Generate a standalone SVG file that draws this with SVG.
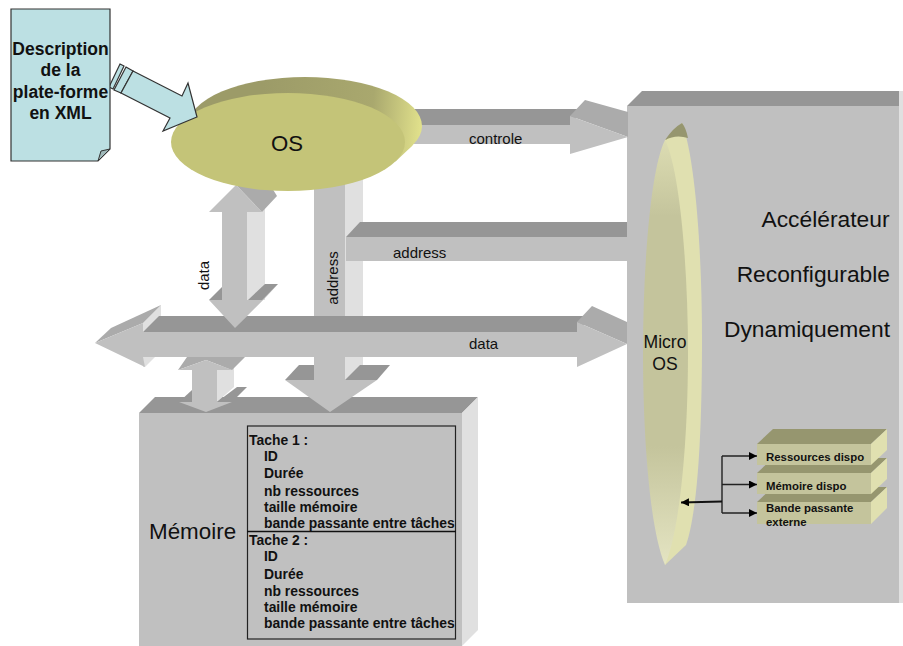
<svg xmlns="http://www.w3.org/2000/svg" width="903" height="646" viewBox="0 0 903 646">
<style>
text{font-family:"Liberation Sans",Arial,sans-serif;fill:#111}
.b{font-weight:bold}
.f{fill:#c0c0c0}.t{fill:#969696}.s{fill:#e0e0e0}.h{fill:#ababab}
.doc{fill:#bce0e3;stroke:#333;stroke-width:1.2}
.bf{fill:#c4c49c}.bt{fill:#96966f}.bs{fill:#e0e0b0}
.l15{font-size:15px}.l23{font-size:22.8px}
.tb{font-size:13.9px;font-weight:bold}
.sm{font-size:11.4px;font-weight:bold}
.cn{fill:none;stroke:#222;stroke-width:1.4}
</style>
<defs>
<linearGradient id="osg" gradientUnits="userSpaceOnUse" x1="190" y1="110" x2="422" y2="130"><stop offset="0.3" stop-color="#9c9b68"/><stop offset="0.78" stop-color="#a9a86e"/><stop offset="1" stop-color="#e2e28c"/></linearGradient>
<linearGradient id="mg" x1="0" x2="0" y1="0" y2="1"><stop offset="0" stop-color="#dcdcb2"/><stop offset="0.18" stop-color="#c4c49c"/><stop offset="0.72" stop-color="#c4c49c"/><stop offset="1" stop-color="#e4e4c2"/></linearGradient>
<marker id="ah" markerUnits="userSpaceOnUse" markerWidth="9" markerHeight="8" refX="8" refY="4" orient="auto"><path d="M0 0L8 4L0 8Z" fill="#000"/></marker>
</defs>
<rect width="903" height="646" fill="#fff"/>

<g id="accelerateur">
<polygon class="t" points="627,106 642,91 903,91 899,106"/>
<rect class="s" x="899" y="91" width="4" height="512"/>
<rect class="f" x="627" y="106" width="272" height="497"/>
<text class="l23" x="889.500" y="227" text-anchor="end">Accélérateur</text>
<text class="l23" x="890" y="282" text-anchor="end">Reconfigurable</text>
<text class="l23" x="890" y="337" text-anchor="end">Dynamiquement</text>
</g>

<g id="memoire">
<polygon class="t" points="139,413 155,397 478,397 462,413"/>
<polygon class="s" points="462,413 478,397 478,630 462,646"/>
<rect class="f" x="139" y="413" width="323" height="233"/>
<text x="149" y="539" font-size="22.4">Mémoire</text>
<rect x="247.500" y="426" width="208" height="213" fill="none" stroke="#222" stroke-width="1.2"/>
<line x1="247" y1="531.500" x2="456" y2="531.500" stroke="#111" stroke-width="1.4"/>
<text class="tb" x="249" y="445">Tache 1 :</text>
<text class="tb" x="264" y="461">ID</text>
<text class="tb" x="264" y="478">Durée</text>
<text class="tb" x="264" y="496">nb ressources</text>
<text class="tb" x="264" y="512">taille mémoire</text>
<text class="tb" x="264" y="528">bande passante entre tâches</text>
<text class="tb" x="249" y="545">Tache 2 :</text>
<text class="tb" x="264" y="561">ID</text>
<text class="tb" x="264" y="579">Durée</text>
<text class="tb" x="264" y="596">nb ressources</text>
<text class="tb" x="264" y="612">taille mémoire</text>
<text class="tb" x="264" y="628">bande passante entre tâches</text>
</g>

<g id="connectors">
<g id="arrow-data-memoire">
<polygon class="s" points="217,370 234,357 234,387 217,402"/>
<polygon class="h" points="178,370 187,357 245,357 232,370 206,360"/>
<polygon class="t" points="179,402 192,390 192,402"/>
<polygon class="t" points="217,402 237,387 247,387 232,402"/>
<polygon class="f" points="206,360 232,370 217,370 217,402 232,402 206,412 179,402 192,402 192,370 178,370"/>
</g>
<g id="arrow-address-v">
<rect class="s" x="345" y="170" width="18" height="212"/>
<polygon class="t" points="285,380 299,365 314,365 314,380"/>
<polygon class="t" points="345,380 360,365 390,365 377,380"/>
<polygon class="f" points="314,170 345,170 345,380 377,380 330,412 285,380 314,380"/>
<text class="l15" transform="translate(338 278) rotate(-90)" text-anchor="middle">address</text>
</g>
<g id="arrow-address-h">
<polygon class="t" points="346,237 360,222 627,222 627,237"/>
<rect class="f" x="346" y="237" width="281" height="24"/>
<text class="l15" x="393" y="258">address</text>
</g>
<g id="arrow-controle">
<polygon class="t" points="400,109 585,109 570,125 400,125"/>
<polygon class="h" points="570,116 585,100 628,112 628,137"/>
<polygon class="f" points="400,125 570,125 570,116 628,137 570,154 570,144 400,144"/>
<text class="l15" x="469" y="144">controle</text>
</g>
<g id="arrow-data-h">
<polygon class="s" points="143,323 161,305 161,316 143,332"/>
<polygon class="s" points="143,357 155,357 145,367 143,367"/>
<polygon class="h" points="95,343 111,328 161,305 143,323"/>
<polygon class="t" points="143,332 159,316 592,316 577,332"/>
<polygon class="h" points="577,322 592,306 627,322 627,344"/>
<polygon class="f" points="95,343 143,323 143,332 577,332 577,322 627,344 577,367 577,357 143,357 145,367"/>
<text class="l15" x="469" y="349">data</text>
</g>
<g id="arrow-data-v">
<rect class="s" x="247" y="205" width="18" height="95"/>
<polygon class="h" points="236,185 262,172 277,196 262,212"/>
<polygon class="t" points="209,300 222,287 222,300"/>
<polygon class="t" points="248,300 265,284 278,284 263,300"/>
<polygon class="s" points="235,328 278,284 263,300"/>
<polygon class="f" points="236,185 262,212 247,212 247,300 263,300 235,328 209,300 222,300 222,212 209,212"/>
<text class="l15" transform="translate(209 275.500) rotate(-90)" text-anchor="middle">data</text>
</g>
<g id="links-micro-os">
<line class="cn" x1="722" y1="456" x2="757" y2="456" marker-end="url(#ah)"/>
<line class="cn" x1="722" y1="484.500" x2="757" y2="484.500" marker-end="url(#ah)"/>
<line class="cn" x1="722" y1="513" x2="757" y2="513" marker-end="url(#ah)"/>
<line class="cn" x1="722" y1="456" x2="722" y2="513"/>
</g>
</g>

<g id="os">
<ellipse cx="305" cy="126" rx="117" ry="49" fill="url(#osg)"/>
<polygon fill="url(#osg)" points="395,162 412,146 422,126 405,142"/>
<ellipse cx="288" cy="142" rx="117" ry="49" fill="#c4c478"/>
<text x="271" y="151" font-size="22.200">OS</text>
</g>

<g id="xml-arrow">
<polygon class="doc" points="120,64 124,66 113,89 109,87"/>
<polygon class="doc" points="126,67 133,71 121,93 114,90"/>
<polygon class="doc" points="133,71 182,96 188,83 197,117 163,131 170,118 121,93"/>
</g>

<g id="description">
<polygon class="doc" points="11,9 110,9 110,149 98,161 11,161"/>
<polygon points="98,161 101,151 110,149" fill="#9fb9ba" stroke="#333" stroke-width="1"/>
<g class="b" font-size="17.500" text-anchor="middle">
<text x="60.500" y="55">Description</text>
<text x="60.500" y="76">de la</text>
<text x="60.500" y="98">plate-forme</text>
<text x="60.500" y="119">en XML</text>
</g>
</g>

<g id="micro-os">
<path class="bs" d="M682 123 C696 160 702 260 702 338 C702 430 698 510 686 545 L665 565 L665 140Z"/>
<path class="bt" d="M665 140 Q673 128 682 123 Q686 128 688 138 Q676 134 665 140Z"/>
<path fill="url(#mg)" d="M665 140 C650 170 643 270 643 352 C643 440 650 530 665 565 C680 530 688 440 688 352 C688 270 680 170 665 140Z"/>
<text x="665" y="348" font-size="17.600" text-anchor="middle">Micro</text>
<text x="665" y="370" font-size="17.600" text-anchor="middle">OS</text>
</g>

<g id="bande-passante">
<polygon class="bt" points="757,502 773,487 887,487 871,502"/>
<polygon class="bs" points="871,502 887,487 887,508 871,524"/>
<rect class="bf" x="757" y="502" width="114" height="22"/>
<text class="sm" x="766" y="512">Bande passante</text>
<text class="sm" x="766" y="525.500">externe</text>
</g>
<g id="memoire-dispo">
<polygon class="bt" points="757,473 773,458 887,458 871,473"/>
<polygon class="bs" points="871,473 887,458 887,479 871,494"/>
<rect class="bf" x="757" y="473" width="114" height="21"/>
<text class="sm" x="766" y="490">Mémoire dispo</text>
</g>
<g id="ressources-dispo">
<polygon class="bt" points="757,444 773,429 887,429 871,444"/>
<polygon class="bs" points="871,444 887,429 887,450 871,465"/>
<rect class="bf" x="757" y="444" width="114" height="21"/>
<text class="sm" x="766" y="461">Ressources dispo</text>
</g>
<g id="link-main">
<line x1="722" y1="501.500" x2="681" y2="502.500" stroke="#111" stroke-width="2" marker-end="url(#ah)"/>
</g>
</svg>
